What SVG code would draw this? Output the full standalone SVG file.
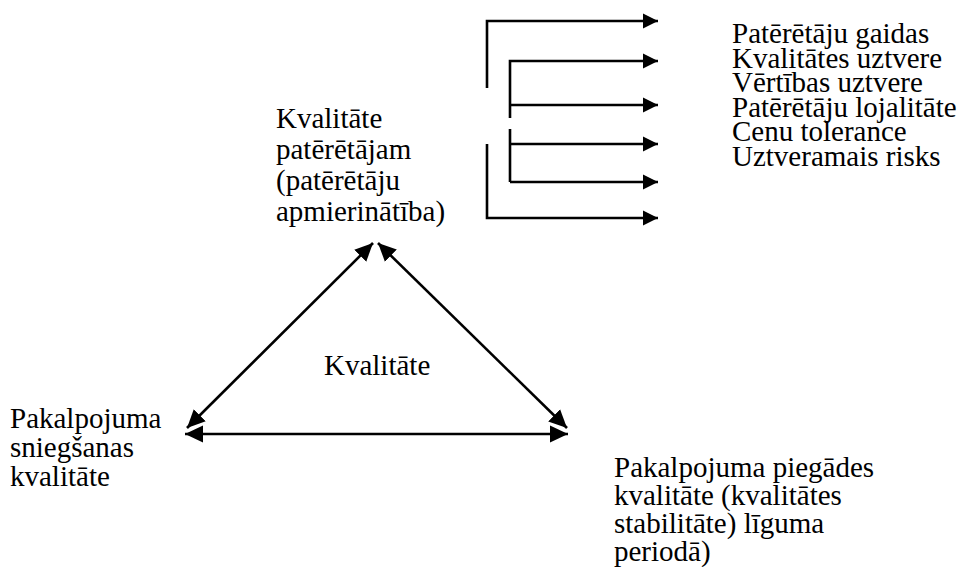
<svg xmlns="http://www.w3.org/2000/svg" width="961" height="567" viewBox="0 0 961 567">
<style>
text{font-family:"Liberation Serif","Times New Roman","DejaVu Serif",serif;font-size:29px;fill:#000}
.ln{stroke:#000;stroke-width:2.6;fill:none}
.arr{marker-end:url(#ah)}
.dbl{marker-start:url(#ah2);marker-end:url(#ah2)}
</style>
<defs>
<marker id="ah" markerUnits="userSpaceOnUse" markerWidth="16" markerHeight="16" viewBox="0 0 16 16" refX="15" refY="8" orient="auto-start-reverse">
<path d="M0,0.5 L15,8 L0,15.5 z" fill="#000"/>
</marker>
<marker id="ah2" markerUnits="userSpaceOnUse" markerWidth="19" markerHeight="18" viewBox="0 0 19 18" refX="18" refY="9" orient="auto-start-reverse">
<path d="M0,0.5 L18,9 L0,17.5 z" fill="#000"/>
</marker>
</defs>
<rect width="961" height="567" fill="#fff"/>
<g id="node-top" font-family="Liberation Serif, serif">
<text x="276" y="128">Kvalitāte</text>
<text x="276" y="159">patērētājam</text>
<text x="276" y="190">(patērētāju</text>
<text x="276" y="221">apmierinātība)</text>
</g>
<g id="node-center" font-family="Liberation Serif, serif">
<text x="324" y="375">Kvalitāte</text>
</g>
<g id="node-left" font-family="Liberation Serif, serif">
<text x="10" y="428">Pakalpojuma</text>
<text x="10" y="457">sniegšanas</text>
<text x="10" y="486">kvalitāte</text>
</g>
<g id="node-right" font-family="Liberation Serif, serif">
<text x="614" y="477">Pakalpojuma piegādes</text>
<text x="614" y="505">kvalitāte (kvalitātes</text>
<text x="614" y="533">stabilitāte) līguma</text>
<text x="614" y="561">periodā)</text>
</g>
<g id="node-list" font-family="Liberation Serif, serif">
<text x="732" y="43">Patērētāju gaidas</text>
<text x="732" y="67.5">Kvalitātes uztvere</text>
<text x="732" y="92">Vērtības uztvere</text>
<text x="732" y="116.5">Patērētāju lojalitāte</text>
<text x="732" y="141">Cenu tolerance</text>
<text x="732" y="165.5">Uztveramais risks</text>
</g>
<g id="connectors">
<path class="ln arr" d="M487,88 V21 H658"/>
<path class="ln arr" d="M510,118 V61 H658"/>
<path class="ln arr" d="M510,105 H658"/>
<path class="ln" d="M510,129 V182"/>
<path class="ln arr" d="M509,144 H658"/>
<path class="ln arr" d="M510,182 H658"/>
<path class="ln arr" d="M487,144 V218 H658"/>
<path class="ln dbl" d="M187,428 L373,243"/>
<path class="ln dbl" d="M567,428 L378,243"/>
<path class="ln dbl" d="M185,434 H568"/>
</g>
</svg>
